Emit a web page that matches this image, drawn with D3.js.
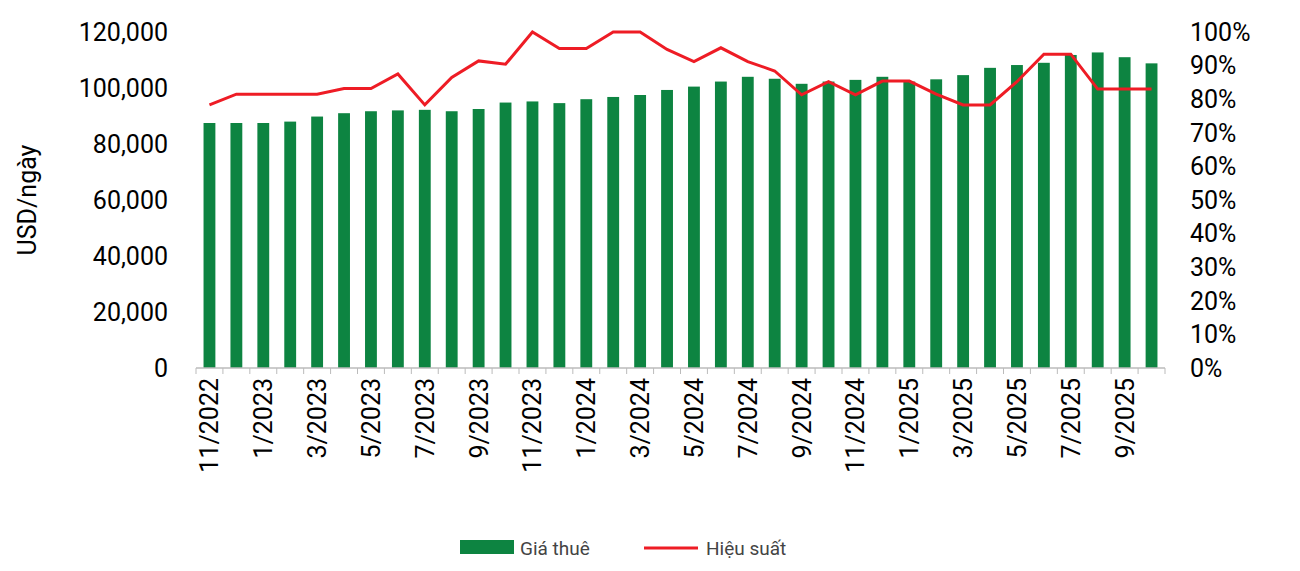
<!DOCTYPE html>
<html><head><meta charset="utf-8">
<script src="https://cdn.jsdelivr.net/npm/d3@7"></script>
<style>body{margin:0;background:#fff;font-family:Roboto,"Noto Sans",sans-serif}</style>
</head><body><svg id="chart" width="1300" height="571"></svg>
<script>
const months = [];
for (let i = 0; i < 36; i++) {
    const m = (10 + i) % 12 + 1, y = 2022 + Math.floor((10 + i) / 12);
    months.push(m + "/" + y);
}
const giaThue = [87500, 87500, 87500, 88000, 89800, 91000, 91700, 92000, 92200, 91700, 92500, 94800,
    95200, 94600, 96000, 96800, 97500, 99300, 100500, 102300, 104000, 103300, 101500, 102300,
    102900, 104000, 102300, 103100, 104600, 107200, 108200, 109000, 111800, 112700, 111000, 108800];
const hieuSuat = [78.3, 81.5, 81.5, 81.5, 81.5, 83.2, 83.2, 87.5, 78.3, 86.5, 91.4, 90.4,
    100, 95.1, 95.1, 100, 100, 94.8, 91.2, 95.3, 91.2, 88.4, 81.3, 85.2,
    81.3, 85.4, 85.4, 81.5, 78.3, 78.3, 85.2, 93.4, 93.4, 83, 83, 83];
const leftTicks = d3.range(0, 120001, 20000);
const rightTicks = d3.range(0, 101, 10);

const svg = d3.select("#chart");
const m = {left: 196, right: 1165, top: 32, bottom: 368};
const x = d3.scaleBand().domain(months).range([m.left, m.right]).paddingInner(0.56).paddingOuter(0.28);
const yL = d3.scaleLinear().domain([0, 120000]).range([m.bottom, m.top]);
const yR = d3.scaleLinear().domain([0, 100]).range([m.bottom, m.top]);
const green = "#0d8441", red = "#ee1c25";

svg.selectAll("rect.bar").data(giaThue).join("rect")
    .attr("x", (d, i) => x(months[i])).attr("width", x.bandwidth())
    .attr("y", d => yL(d)).attr("height", d => yL(0) - yL(d)).attr("fill", green);

svg.append("path").datum(hieuSuat)
    .attr("d", d3.line().x((d, i) => x(months[i]) + x.bandwidth() / 2).y(d => yR(d)))
    .attr("fill", "none").attr("stroke", red).attr("stroke-width", 3);

const fmt = d3.format(",");
svg.selectAll("text.yl").data(leftTicks).join("text")
    .attr("x", 168).attr("y", d => yL(d)).attr("dy", "0.35em").attr("text-anchor", "end")
    .attr("font-size", 25).attr("fill", "#000").text(d => fmt(d));
svg.selectAll("text.yr").data(rightTicks).join("text")
    .attr("x", 1190).attr("y", d => yR(d)).attr("dy", "0.35em")
    .attr("font-size", 25).attr("fill", "#000").text(d => d + "%");
svg.append("text").attr("transform", "translate(36,200) rotate(-90)").attr("text-anchor", "middle")
    .attr("font-size", 25).attr("fill", "#000").text("USD/ngày");

// x axis
svg.append("line").attr("x1", m.left).attr("x2", m.right).attr("y1", m.bottom).attr("y2", m.bottom)
    .attr("stroke", "#bbb").attr("stroke-width", 1.5);
const step = x.step();
const tickX = i => m.left + x.paddingOuter() * step - x.paddingInner() * step / 2 + i * step;
svg.selectAll("line.tk").data(d3.range(37)).join("line")
    .attr("x1", tickX).attr("x2", tickX)
    .attr("y1", m.bottom).attr("y2", m.bottom + 6).attr("stroke", "#bbb");
svg.selectAll("text.xl").data(months.filter((d, i) => i % 2 === 0)).join("text")
    .attr("transform", d => `translate(${x(d) + x.bandwidth() / 2 + 9},378) rotate(-90)`)
    .attr("text-anchor", "end").attr("font-size", 25).attr("fill", "#000").text(d => d);

// legend
const lg = svg.append("g").attr("transform", "translate(460,548)");
lg.append("rect").attr("x", 0).attr("y", -8).attr("width", 54).attr("height", 14).attr("fill", green);
lg.append("text").attr("x", 60).attr("y", 0).attr("dy", "0.35em").attr("font-size", 19).attr("fill", "#444").text("Giá thuê");
lg.append("line").attr("x1", 644 - 460).attr("x2", 698 - 460).attr("y1", 0).attr("y2", 0).attr("stroke", red).attr("stroke-width", 3);
lg.append("text").attr("x", 706 - 460).attr("y", 0).attr("dy", "0.35em").attr("font-size", 19).attr("fill", "#444").text("Hiệu suất");
</script></body></html>
